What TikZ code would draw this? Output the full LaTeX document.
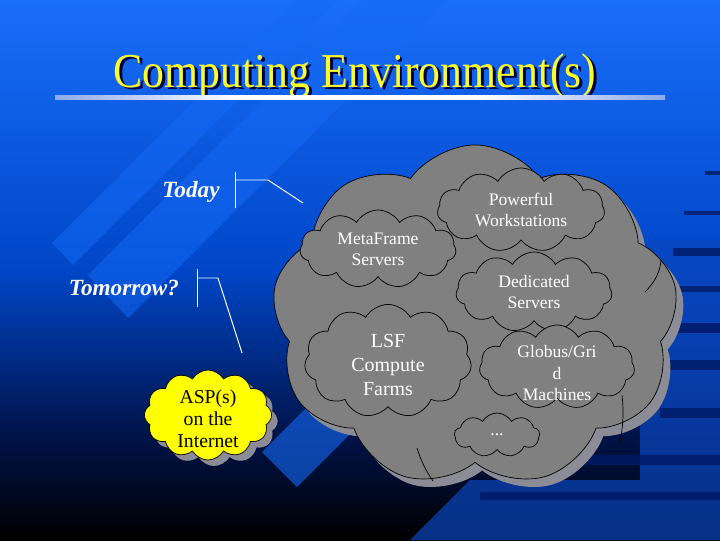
\documentclass[tikz,border=0pt]{standalone}
\usepackage{fontspec}
\setmainfont{Liberation Serif}
\newfontfamily\titlefont{Liberation Serif}[FakeStretch=0.9]
\usetikzlibrary{shapes.symbols,shadows}

\definecolor{bgtop}{RGB}{25,110,250}
\definecolor{bgmid}{RGB}{0,70,200}
\definecolor{bglow}{RGB}{0,20,75}
\definecolor{bandblue}{RGB}{20,105,245}
\definecolor{bardark}{RGB}{0,25,100}
\definecolor{barlight}{RGB}{10,70,190}
\definecolor{ruleend}{RGB}{140,170,235}
\definecolor{cloudgray}{RGB}{128,128,128}
\definecolor{shadowgray}{RGB}{140,140,150}
\definecolor{titleyellow}{RGB}{255,255,40}
\definecolor{titleshade}{RGB}{0,0,60}
\definecolor{aspyellow}{RGB}{255,255,0}

\pgfdeclareverticalshading{slidebg}{100bp}{color(0bp)=(black); color(25bp)=(black);
  color(35bp)=(bglow); color(50bp)=(bgmid); color(75bp)=(bgtop); color(100bp)=(bgtop)}
\pgfdeclarehorizontalshading{titlerule}{100bp}{color(0bp)=(bgtop); color(25bp)=(ruleend);
  color(40bp)=(white); color(60bp)=(white); color(75bp)=(ruleend); color(100bp)=(bgtop)}

% yellow title text with a dark drop shadow behind it
\newcommand{\shadowtitle}[1]{\makebox[0pt][l]{\hspace{2pt}\raisebox{-2pt}{\textcolor{titleshade}{#1}}}#1}

\tikzset{
  bracket/.style={draw=white, line width=0.7pt},
  puffline/.style={draw=black, line width=0.5pt},
  puffcloud/.style={cloud, draw=black, line width=0.5pt, inner sep=0pt},
  bigcloud/.style={puffcloud, cloud puffs=9, cloud puff arc=110, fill=cloudgray,
    drop shadow={shadow xshift=0.18cm, shadow yshift=-0.2cm, fill=shadowgray, opacity=1}},
  subcloud/.style={puffcloud, cloud puffs=11, cloud puff arc=120, fill=cloudgray},
  aspcloud/.style={puffcloud, cloud puffs=12, cloud puff arc=120, fill=aspyellow,
    drop shadow={shadow xshift=0.15cm, shadow yshift=-0.15cm, fill=shadowgray, opacity=1}},
  cloudlabel/.style={text=white, align=center, font=\rmfamily\fontsize{12.5}{15}\selectfont},
  sidelabel/.style={text=white, anchor=base, font=\rmfamily\fontsize{16.5}{20}\selectfont\bfseries\itshape}
}

\begin{document}
\begin{tikzpicture}[x=0.025cm, y=-0.025cm]
\useasboundingbox (0,0) rectangle (720,540);
\clip (0,0) rectangle (720,540);
% slide background
\shade[shading=slidebg] (0,0) rectangle (720,540);
\fill[bandblue, opacity=0.55] (52,243) -- (73,265) -- (343,-5) -- (322,-27) -- cycle;
\fill[bandblue, opacity=0.55] (88,275) -- (128,318) -- (450,-4) -- (410,-47) -- cycle;
\fill[bandblue, opacity=0.6] (262,452) -- (297,487) -- (520,264) -- (485,229) -- cycle;
\fill[barlight, opacity=0.7] (640,240) -- (720,240) -- (720,540) -- (410,540) -- (470,480) -- (640,480) -- cycle;
\foreach \ya/\yb/\xa in {171/175/705, 211/215/684, 248/256/673, 286/292/675, 323/333/670,
  360/370/670, 408/418/660, 455/465/560, 492/500/480}
  \fill[bardark, opacity=0.8] (\xa,\ya) rectangle (720,\yb);

% title
\node[font=\titlefont\fontsize{34.6}{40}\selectfont, text=titleyellow, anchor=base] (title) at (355,87) {\shadowtitle{Computing Environment(s)}};
\shade[shading=titlerule] (55,95) rectangle (665,99);

% today / tomorrow
\node[sidelabel] (today) at (191,197) {Today};
\node[sidelabel] (tomorrow) at (124,295) {Tomorrow?};
\coordinate (todaytop) at (235,172);
\coordinate (todaybot) at (235,208);
\coordinate (todaybar) at (235,180);
\coordinate (todayknee) at (268,180);
\coordinate (todaytip) at (303,203);
\coordinate (tomtop) at (197,269);
\coordinate (tombot) at (197,307);
\coordinate (tombar) at (197,278);
\coordinate (tomknee) at (218,278);
\coordinate (tomtip) at (242,353);
\draw[bracket] (todaytop) -- (todaybot);
\draw[bracket] (todaybar) -- (todayknee) -- (todaytip);
\draw[bracket] (tomtop) -- (tombot);
\draw[bracket] (tombar) -- (tomknee) -- (tomtip);

% clouds
\node[bigcloud, minimum width=10.15cm, minimum height=8.55cm, aspect=1.19] (todaycloud) at (475,316) {};
\draw[puffline] (645,292) .. controls (655,282) and (660,272) .. (661,260);
\draw[puffline] (622,395) .. controls (624,412) and (623,430) .. (619,446);
\draw[puffline] (417,448) .. controls (421,461) and (426,471) .. (433,481);
\node[subcloud, minimum width=4.18cm, minimum height=2.1cm, aspect=2,
  label={[cloudlabel]center:{Powerful\\Workstations}}] (workstations) at (521,210) {};
\node[subcloud, minimum width=3.9cm, minimum height=1.95cm, aspect=2,
  label={[cloudlabel]center:{MetaFrame\\Servers}}] (metaframe) at (378,249) {};
\node[subcloud, minimum width=3.9cm, minimum height=2cm, aspect=1.95,
  label={[cloudlabel]center:{Dedicated\\Servers}}] (dedicated) at (534,292) {};
\node[subcloud, minimum width=4.18cm, minimum height=2.83cm, aspect=1.48,
  label={[cloudlabel, yshift=-0.1cm, font=\rmfamily\fontsize{14.2}{17}\selectfont]center:{LSF\\Compute\\Farms}}] (lsf) at (388,361) {};
\node[subcloud, minimum width=3.88cm, minimum height=2.1cm, aspect=1.85,
  label={[cloudlabel, yshift=-0.15cm]center:{Globus/Gri\\d\\Machines}}] (globus) at (557,367) {};
\node[subcloud, cloud puffs=9, minimum width=2.13cm, minimum height=1.1cm, aspect=1.9,
  label={[cloudlabel]center:{...}}] (more) at (497,435) {};
\node[aspcloud, minimum width=3.18cm, minimum height=2.25cm, aspect=1.41,
  label={[cloudlabel, yshift=-0.1cm, text=black, font=\rmfamily\fontsize{14}{15.6}\selectfont]center:{ASP(s)\\on the\\Internet}}] (asp) at (208,415) {};
\end{tikzpicture}
\end{document}
